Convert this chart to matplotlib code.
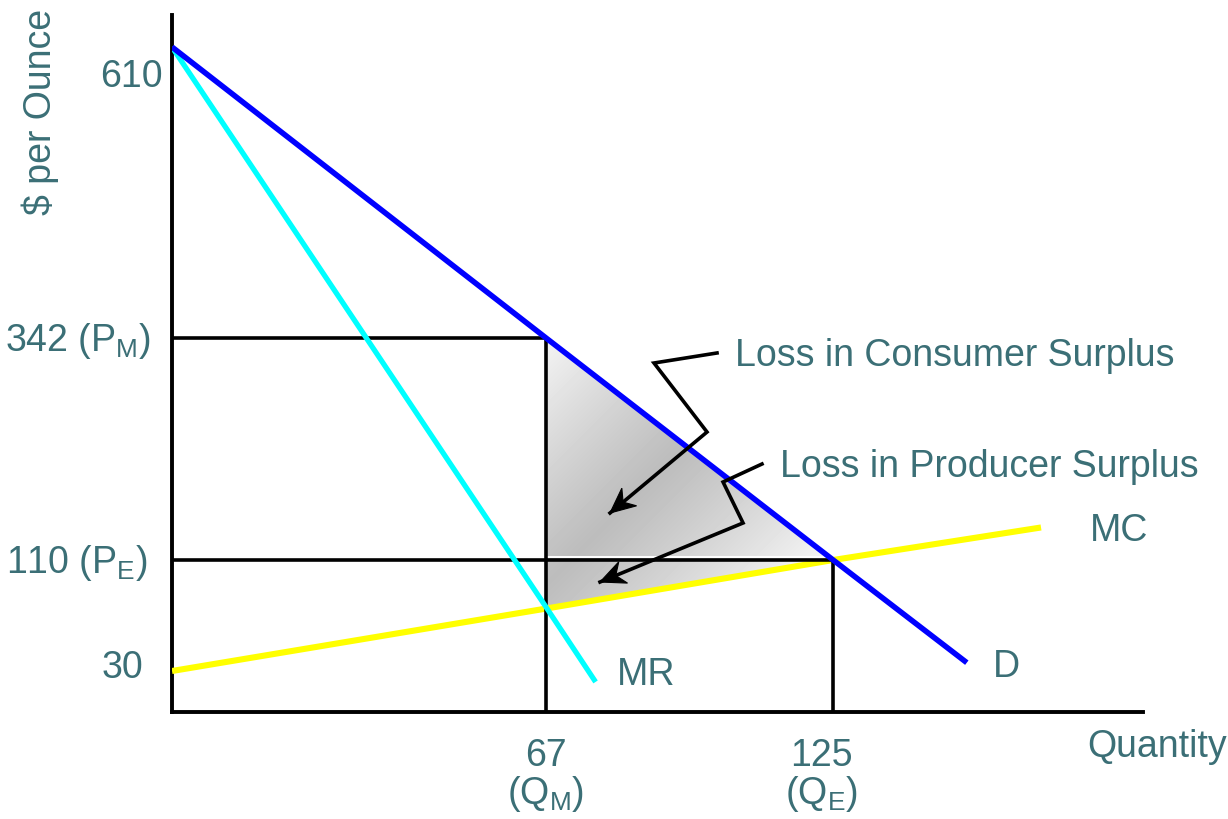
import numpy as np
import matplotlib
matplotlib.use("Agg")
import matplotlib.pyplot as plt
from matplotlib.patches import Polygon
from matplotlib.transforms import ScaledTranslation

plt.rcParams['font.family'] = ['Liberation Sans', 'DejaVu Sans']
plt.rcParams['mathtext.fontset'] = 'custom'
plt.rcParams['mathtext.rm'] = 'Liberation Sans'
plt.rcParams['mathtext.it'] = 'Liberation Sans:italic'

# --- market data ---------------------------------------------------------
Q_M, Q_E = 67, 125          # monopoly / competitive quantity
P_M, P_E = 342, 110         # monopoly / competitive price

demand_q = [0, 67, 125, 152]
demand_p = [610, 342, 110, 36]
mr_q = [0, 67, 77]
mr_p = [610, 76, 22]
mc_q = [0, 67, 125, 167]
mc_p = [30, 75, 110, 144]

price_ticks = [610, 342, 110, 30]
price_labels = ['610', r'342 (P$_{\rm M}$)', r'110 (P$_{\rm E}$)', '30']
qty_ticks = [67, 125]
qty_top = ['67', '125']
qty_bottom = [r'(Q$_{\rm M}$)', r'(Q$_{\rm E}$)']

# the diagram is drawn schematically, not to scale: piecewise stretch
price_knots = [0, 30, 110, 342, 610]
price_span = [0, 41, 152, 374, 665]
qty_knots = [0, 67, 125]
qty_span = [0, 374, 661]

TEXT = '#3b6f76'
FS = 27
DPI = 100
AX_W, AX_H = 971, 697


def stretch(knots, span):
    k = np.asarray(knots, float)
    s = np.asarray(span, float)
    lo = (s[1] - s[0]) / (k[1] - k[0])
    hi = (s[-1] - s[-2]) / (k[-1] - k[-2])

    def fwd(v):
        v = np.asarray(v, float)
        out = np.interp(v, k, s)
        out = np.where(v < k[0], s[0] + (v - k[0]) * lo, out)
        return np.where(v > k[-1], s[-1] + (v - k[-1]) * hi, out)

    def inv(u):
        u = np.asarray(u, float)
        out = np.interp(u, s, k)
        out = np.where(u < s[0], k[0] + (u - s[0]) / lo, out)
        return np.where(u > s[-1], k[-1] + (u - s[-1]) / hi, out)

    return fwd, inv


fig = plt.figure(figsize=(12.28, 8.19), dpi=DPI)
ax = fig.add_axes([172 / 1228, 107 / 819, AX_W / 1228, AX_H / 819])
ax.set_xscale('function', functions=stretch(qty_knots, qty_span))
ax.set_yscale('function', functions=stretch(price_knots, price_span))


def shift(trans, dx, dy):
    # dx, dy in pixels, dy pointing down
    return trans + ScaledTranslation(dx / DPI, -dy / DPI, fig.dpi_scale_trans)


# shaded deadweight-loss triangles: reflected diagonal gradient
yy, xx = np.mgrid[0:AX_H, 0:AX_W]
band = np.abs((xx + 172) + (yy + 15) - 1130)
shade = 0.74 + 0.22 * np.clip(band / 250, 0, 1) ** 1.1

mc_at_qm = mc_p[1]
tri_cs = Polygon([(Q_M, P_M), (Q_M, P_E), (Q_E, P_E)], closed=True,
                 facecolor='none', edgecolor='white', lw=1.4, zorder=2)
tri_ps = Polygon([(Q_M, P_E), (Q_E, P_E), (Q_M, mc_at_qm)], closed=True,
                 facecolor='none', edgecolor='white', lw=1.4, zorder=2)
for tri in (tri_cs, tri_ps):
    ax.add_patch(tri)
    im = ax.imshow(shade, cmap='gray', vmin=0, vmax=1, extent=(0, 1, 0, 1),
                   transform=ax.transAxes, origin='upper', aspect='auto',
                   interpolation='bilinear', zorder=1)
    im.set_clip_path(tri)
# thin white seam just above the competitive price line
ax.plot([Q_M, Q_E], [P_E, P_E], color='white', lw=1.4,
        transform=shift(ax.transData, 0, -3), zorder=2.5)

# curves
ax.plot(mc_q, mc_p, color='#ffff00', lw=4.4, solid_capstyle='butt', zorder=3)

# guide lines at monopoly and competitive outcome
guide = dict(color='black', lw=2.6, zorder=4)
ax.plot([0, Q_M], [P_M, P_M], **guide)
ax.plot([Q_M, Q_M], [0, P_M], **guide)
ax.plot([0, Q_E], [P_E, P_E], **guide)
ax.plot([Q_E, Q_E], [0, P_E], **guide)

ax.plot(mr_q, mr_p, color='#00ffff', lw=3.8, solid_capstyle='butt', zorder=5)
ax.plot(demand_q, demand_p, color='#0000ff', lw=4.0, solid_capstyle='butt', zorder=6)

# axes
ax.set_xlim(0, 187.6)
ax.set_ylim(0, 639.5)
for side in ('top', 'right'):
    ax.spines[side].set_visible(False)
for side in ('left', 'bottom'):
    ax.spines[side].set_linewidth(2.8)
    ax.spines[side].set_color('black')
ax.set_xticks([])
ax.set_yticks([])
ax.minorticks_off()

# price labels on the vertical axis
ytrans = ax.get_yaxis_transform()
price_offsets = [(-9, 40), (-21, 13), (-24, 13), (-29, 7)]
for v, lab, (dx, dy) in zip(price_ticks, price_labels, price_offsets):
    ax.text(0, v, lab, transform=shift(ytrans, dx, dy), ha='right',
            va='baseline', fontsize=FS, color=TEXT)

# quantity labels under the horizontal axis
xtrans = ax.get_xaxis_transform()
qty_dx = [0, -12]
for v, top, bottom, dx in zip(qty_ticks, qty_top, qty_bottom, qty_dx):
    ax.text(v, 0, top, transform=shift(xtrans, dx, 54), ha='center',
            va='baseline', fontsize=FS, color=TEXT)
    ax.text(v, 0, bottom, transform=shift(xtrans, dx, 92), ha='center',
            va='baseline', fontsize=FS, color=TEXT)

fig.text(40 / 1228, 1 - 112 / 819, '$ per Ounce', rotation=90, ha='center',
         va='center', fontsize=FS, color=TEXT)
ax.text(0.9424, -0.0646, 'Quantity', transform=ax.transAxes, fontsize=FS,
        color=TEXT, va='baseline', ha='left')

# curve names
ax.text(0.9454, 0.2453, 'MC', transform=ax.transAxes, fontsize=FS, color=TEXT)
ax.text(0.8455, 0.0502, 'D', transform=ax.transAxes, fontsize=FS, color=TEXT)
ax.text(0.4583, 0.0387, 'MR', transform=ax.transAxes, fontsize=FS, color=TEXT)

# callouts
ax.text(0.5798, 0.4964, 'Loss in Consumer Surplus', transform=ax.transAxes,
        fontsize=FS, color=TEXT, va='baseline')
ax.text(0.6262, 0.3372, 'Loss in Producer Surplus', transform=ax.transAxes,
        fontsize=FS, color=TEXT, va='baseline')

# notched arrow head in pixels, tip at the origin pointing along +x
head = np.array([(0, 0), (-25, 11.5), (-17, 0), (-25, -11.5)])

callouts = [
    [(0.5613, 0.5151), (0.4964, 0.5007), (0.5510, 0.4017), (0.4511, 0.2855)],
    [(0.6076, 0.3558), (0.5675, 0.3300), (0.5881, 0.2712), (0.4408, 0.1865)],
]
for pts in callouts:
    xs, ys = zip(*pts)
    ax.plot(xs, ys, color='black', lw=2.6, transform=ax.transAxes,
            solid_joinstyle='miter', zorder=7)
    (x0, y0), (x1, y1) = pts[-2], pts[-1]
    ang = np.arctan2((y1 - y0) * AX_H, (x1 - x0) * AX_W)
    rot = np.array([[np.cos(ang), -np.sin(ang)], [np.sin(ang), np.cos(ang)]])
    px = head @ rot.T
    verts = np.column_stack([x1 + px[:, 0] / AX_W, y1 + px[:, 1] / AX_H])
    ax.add_patch(Polygon(verts, closed=True, transform=ax.transAxes,
                         facecolor='black', edgecolor='black', lw=0.8, zorder=8))

fig.savefig('out.png', dpi=DPI)
